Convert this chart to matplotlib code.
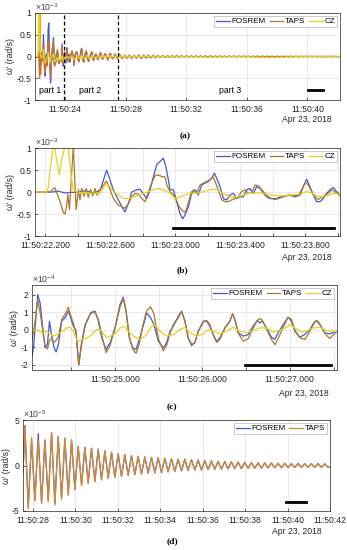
import matplotlib
matplotlib.use('Agg')
import numpy as np
import matplotlib.pyplot as plt
from matplotlib.lines import Line2D

plt.rcParams['font.family'] = ['Liberation Sans', 'DejaVu Sans']
plt.rcParams['axes.unicode_minus'] = False
plt.rcParams['mathtext.fontset'] = 'custom'
plt.rcParams['mathtext.rm'] = 'Liberation Sans'

# time axis = seconds after 11:50:00 (Apr 23, 2018)

# ---- panel (b) values, x1e-3 rad/s
fos_b_t = [22.00, 22.25, 22.28, 22.32, 22.40, 22.45, 22.50, 22.54, 22.579, 22.62,
           22.651, 22.682, 22.692, 22.713, 22.733, 22.764, 22.785, 22.826, 22.846, 22.867,
           22.887, 22.928, 22.943, 22.959, 22.969, 22.99, 23.01, 23.03, 23.047, 23.06,
           23.082, 23.102, 23.123, 23.143, 23.164, 23.184, 23.205, 23.225, 23.242, 23.256,
           23.277, 23.297, 23.318, 23.338, 23.359, 23.379, 23.40, 23.42, 23.44, 23.461,
           23.482, 23.502, 23.523, 23.543, 23.564, 23.584, 23.625, 23.646, 23.677, 23.707,
           23.738, 23.769, 23.789, 23.81, 23.83, 23.851, 23.871, 23.892, 23.912, 23.933,
           23.953, 23.974, 23.994, 24.02]
fos_b_v = [0.0, 0.0, 0.02, -0.02, 0.0, 0.03, -0.03, 0.05, 0.50, 0.05,
           -0.18, -0.40, -0.45, -0.26, 0.0, 0.05, 0.06, -0.15, 0.05, 0.35,
           0.62, 0.77, 0.58, 0.27, 0.05, 0.05, -0.22, -0.49, -0.61, -0.53,
           -0.34, -0.03, 0.05, -0.07, 0.16, 0.20, 0.24, 0.31, 0.43, 0.31,
           0.12, -0.15, -0.18, -0.07, -0.03, -0.15, -0.11, -0.11, 0.05, 0.08,
           -0.03, 0.12, 0.08, -0.03, -0.11, -0.15, -0.15, -0.11, -0.09, -0.07,
           -0.11, -0.07, 0.12, 0.29, 0.12, -0.07, -0.22, -0.22, -0.15, -0.03,
           0.05, 0.10, 0.01, -0.07]

taps_b_t = [22.00, 22.23, 22.26, 22.29, 22.313, 22.323, 22.333, 22.34, 22.35, 22.374,
            22.391, 22.405, 22.415, 22.425, 22.44, 22.452, 22.466, 22.48, 22.493, 22.507,
            22.52, 22.538, 22.579, 22.621, 22.651, 22.67, 22.692, 22.713, 22.733, 22.754,
            22.775, 22.795, 22.816, 22.836, 22.856, 22.877, 22.897, 22.918, 22.938, 22.949,
            22.969, 22.99, 23.0, 23.02, 23.041, 23.061, 23.072, 23.092, 23.102, 23.117,
            23.133, 23.154, 23.174, 23.195, 23.215, 23.232, 23.246, 23.266, 23.287, 23.307,
            23.328, 23.348, 23.369, 23.389, 23.41, 23.43, 23.451, 23.471, 23.492, 23.512,
            23.533, 23.554, 23.574, 23.595, 23.615, 23.636, 23.666, 23.697, 23.728, 23.759,
            23.779, 23.8, 23.82, 23.841, 23.861, 23.882, 23.902, 23.923, 23.943, 23.964,
            23.984, 24.02]
taps_b_v = [0.0, 0.0, 0.10, -0.20, -0.47, -0.50, -0.30, -0.05, -0.40, 1.05,
            -0.40, 0.05, -0.18, 0.08, -0.10, 0.08, -0.12, 0.06, -0.09, 0.08,
            -0.07, 0.05, 0.25, -0.15, -0.30, -0.33, -0.37, -0.26, -0.11, -0.03,
            -0.05, -0.15, -0.22, 0.0, 0.20, 0.37, 0.39, 0.35, 0.34, 0.16,
            0.01, -0.07, -0.11, -0.30, -0.41, -0.47, -0.37, -0.11, 0.01, 0.05,
            -0.03, 0.16, 0.20, 0.24, 0.28, 0.35, 0.24, 0.05, -0.18, -0.22,
            -0.22, -0.18, -0.15, -0.11, 0.01, 0.05, -0.03, -0.03, 0.16, 0.14,
            0.05, -0.03, -0.11, -0.15, -0.17, -0.15, -0.11, -0.07, -0.09, -0.07,
            0.05, 0.22, 0.16, 0.01, -0.11, -0.17, -0.12, -0.07, -0.03, 0.05,
            0.01, -0.10]

cz_b_t = [22.00, 22.21, 22.22, 22.231, 22.247, 22.257, 22.272, 22.288, 22.303, 22.323,
          22.333, 22.344, 22.354, 22.364, 22.374, 22.415, 22.538, 22.569, 22.59, 22.621,
          22.682, 22.713, 22.774, 22.867, 22.897, 22.928, 22.969, 23.0, 23.03, 23.061,
          23.092, 23.133, 23.174, 23.215, 23.236, 23.256, 23.297, 23.338, 23.379, 23.42,
          23.461, 23.502, 23.543, 23.584, 23.646, 23.707, 23.769, 23.81, 23.84, 23.882,
          23.933, 23.974, 24.02]
cz_b_v = [0.0, 0.0, 0.12, 0.50, 0.95, 1.10, 0.70, 0.40, 0.75, 1.05,
          1.15, 1.00, 0.58, 0.27, 0.05, -0.02, -0.03, 0.16, 0.16, 0.01,
          -0.15, -0.15, -0.07, 0.05, 0.08, 0.05, -0.03, -0.15, -0.11, -0.07,
          -0.03, -0.03, 0.01, 0.05, 0.06, 0.05, -0.03, -0.11, -0.12, -0.07,
          -0.03, -0.02, -0.03, -0.07, -0.09, -0.07, -0.05, 0.01, -0.02, -0.11,
          -0.09, -0.03, -0.05]

# ---- panel (c) values, x1e-4 rad/s
fos_c_t = [24.05, 24.067, 24.097, 24.116, 24.143, 24.173, 24.20, 24.227, 24.25, 24.276,
           24.303, 24.326, 24.352, 24.39, 24.429, 24.467, 24.493, 24.516, 24.554, 24.585,
           24.615, 24.657, 24.684, 24.722, 24.771, 24.81, 24.848, 24.897, 24.943, 25.0,
           25.057, 25.095, 25.126, 25.164, 25.202, 25.24, 25.278, 25.316, 25.362, 25.408,
           25.446, 25.495, 25.552, 25.59, 25.629, 25.667, 25.724, 25.762, 25.80, 25.838,
           25.876, 25.914, 25.952, 26.01, 26.048, 26.086, 26.124, 26.162, 26.20, 26.257,
           26.314, 26.345, 26.371, 26.41, 26.467, 26.524, 26.581, 26.627, 26.657, 26.686,
           26.733, 26.79, 26.829, 26.867, 26.924, 26.981, 27.019, 27.057, 27.114, 27.171,
           27.229, 27.274, 27.305, 27.343, 27.40, 27.457, 27.514, 27.55]
fos_c_v = [-1.5, -1.03, 0.88, 2.02, 1.54, 0.11, -1.03, -0.84, 0.50, -0.36,
           -1.03, -1.26, -0.84, 0.50, 0.69, 1.07, 0.69, 0.30, -0.08, -2.02,
           -0.84, 0.30, 0.53, 0.99, 1.07, 0.50, -0.46, -1.12, -0.74, 0.11,
           1.45, 1.87, 1.07, -0.46, -1.03, -1.12, -0.55, 0.11, 0.97, 0.69,
           0.30, -0.65, -1.03, -0.74, -0.08, 0.21, 0.78, 1.07, 0.50, -0.46,
           -0.84, -0.74, -0.08, 0.50, 0.50, 0.21, -0.27, -0.65, -0.46, 0.11,
           0.50, 0.91, 0.59, -0.17, -0.36, -0.27, 0.21, 0.53, 0.40, 0.50,
           0.11, -0.42, -0.55, -0.17, 0.30, 0.72, 0.50, -0.08, -0.42, -0.27,
           0.02, 0.40, 0.53, 0.30, -0.17, -0.23, -0.11, -0.05]

taps_c_t = [24.05, 24.08, 24.116, 24.143, 24.18, 24.20, 24.227, 24.25, 24.276, 24.303,
            24.326, 24.352, 24.39, 24.429, 24.467, 24.493, 24.516, 24.554, 24.585, 24.615,
            24.657, 24.684, 24.722, 24.771, 24.81, 24.848, 24.897, 24.943, 25.0, 25.057,
            25.095, 25.126, 25.164, 25.202, 25.24, 25.278, 25.316, 25.362, 25.408, 25.446,
            25.495, 25.552, 25.59, 25.629, 25.667, 25.724, 25.762, 25.80, 25.838, 25.876,
            25.914, 25.952, 26.01, 26.048, 26.086, 26.124, 26.162, 26.20, 26.257, 26.314,
            26.345, 26.371, 26.41, 26.467, 26.524, 26.581, 26.627, 26.657, 26.686, 26.733,
            26.79, 26.829, 26.867, 26.924, 26.981, 27.019, 27.057, 27.114, 27.171, 27.229,
            27.274, 27.305, 27.343, 27.40, 27.457, 27.514, 27.55]
taps_c_v = [-0.6, 0.3, 1.7, 1.0, -0.3, -0.9, -1.1, -0.6, -0.5, -0.7,
            -0.6, -0.4, 0.6, 0.9, 1.3, 0.8, 0.5, -0.2, -2.0, -0.9,
            0.2, 0.6, 0.95, 1.0, 0.6, -0.3, -1.3, -0.9, 0.1, 1.3,
            1.8, 1.1, -0.4, -1.1, -1.35, -0.8, 0.2, 1.1, 1.32, 0.9,
            -0.5, -1.2, -0.9, -0.2, 0.3, 0.7, 1.05, 0.5, -0.5, -0.92,
            -0.7, -0.1, 0.45, 0.55, 0.3, -0.3, -0.72, -0.55, 0.1, 0.5,
            0.92, 0.6, -0.2, -0.65, -0.5, 0.1, 0.55, 0.65, 0.55, 0.05,
            -0.55, -0.85, -0.5, 0.15, 0.72, 0.6, 0.0, -0.45, -0.55, -0.1,
            0.35, 0.55, 0.35, -0.2, -0.5, -0.2, -0.1]

cz_c_t = [24.051, 24.105, 24.162, 24.219, 24.295, 24.371, 24.448, 24.486, 24.524, 24.57,
          24.638, 24.714, 24.79, 24.829, 24.905, 25.0, 25.057, 25.103, 25.152, 25.21,
          25.286, 25.362, 25.419, 25.457, 25.514, 25.59, 25.667, 25.743, 25.80, 25.857,
          25.933, 26.01, 26.067, 26.124, 26.20, 26.276, 26.353, 26.429, 26.505, 26.581,
          26.657, 26.733, 26.81, 26.886, 26.962, 27.0, 27.057, 27.133, 27.19, 27.267,
          27.343, 27.419, 27.495, 27.55]
cz_c_v = [-0.08, 0.02, -0.17, -0.08, -0.36, -0.17, 0.11, 0.15, -0.08, -0.65,
          -0.55, -0.36, 0.02, 0.02, -0.46, -0.23, 0.11, 0.21, -0.08, -0.36,
          -0.55, -0.27, 0.21, 0.30, -0.08, -0.36, -0.27, 0.02, 0.15, -0.17,
          -0.36, -0.23, 0.02, -0.08, -0.23, -0.08, 0.15, -0.08, -0.17, -0.04,
          0.11, 0.11, -0.13, -0.04, 0.15, 0.30, 0.11, -0.13, -0.08, 0.11,
          0.15, -0.04, -0.08, -0.10]

# ---- panel (d): successive peaks / troughs, x1e-5 rad/s
d_first_peak = 27.62   # time of first peak
d_half_period = 0.157  # peak-to-trough spacing
taps_d_pk = [4.4, 3.1, 2.8, 2.8, 3.6, 3.2, 3.0, 2.8, 2.1, 2.0,
             1.9, 1.8, 1.6, 1.45, 1.3, 1.2, 1.1, 1.0, 0.95, 0.9,
             0.85, 0.8, 0.75, 0.7, 0.7, 0.65, 0.6, 0.55, 0.5, 0.45,
             0.45, 0.4, 0.38, 0.35, 0.33, 0.3, 0.3, 0.28, 0.25, 0.25,
             0.22, 0.22, 0.2, 0.2, 0.2, 0.18]
taps_d_tr = [-4.8, -3.9, -4.2, -4.0, -4.35, -3.7, -3.3, -2.7, -2.2, -2.0,
             -1.8, -1.6, -1.4, -1.3, -1.2, -1.1, -1.0, -0.95, -0.85, -0.8,
             -0.78, -0.7, -0.65, -0.6, -0.55, -0.5, -0.5, -0.45, -0.42, -0.4,
             -0.38, -0.35, -0.35, -0.32, -0.3, -0.3, -0.28, -0.26, -0.25, -0.24,
             -0.22, -0.22, -0.2, -0.2, -0.2, -0.2]
fos_d_pk = [4.4, 2.7, 3.5, 2.8, 3.6, 3.2, 3.0, 2.8, 2.1, 2.0,
            1.9, 1.8, 1.6, 1.45, 1.3, 1.2, 1.1, 1.0, 0.95, 0.9,
            0.85, 0.8, 0.75, 0.7, 0.7, 0.65, 0.6, 0.55, 0.5, 0.45,
            0.45, 0.4, 0.38, 0.35, 0.33, 0.3, 0.3, 0.28, 0.25, 0.25,
            0.22, 0.22, 0.2, 0.2, 0.2, 0.18]
fos_d_tr = [-4.6, -3.8, -4.1, -3.9, -4.2, -3.6, -3.2, -2.6, -2.1, -1.9,
            -1.75, -1.55, -1.4, -1.3, -1.2, -1.1, -1.0, -0.95, -0.85, -0.8,
            -0.78, -0.7, -0.65, -0.6, -0.55, -0.5, -0.5, -0.45, -0.42, -0.4,
            -0.38, -0.35, -0.35, -0.32, -0.3, -0.3, -0.28, -0.26, -0.25, -0.24,
            -0.22, -0.22, -0.2, -0.2, -0.2, -0.2]
# CZ in part 3 (only shown in panel a)
cz_d_pk = [2.0, 1.8, 1.8, 1.6, 1.6, 1.5, 1.5, 1.3, 1.2, 1.2,
           1.1, 1.0, 1.0, 0.9, 0.8, 0.6, 0.4, 0.2, 0.0, 0.0,
           0.2, 0.4, 0.6, 0.6, 0.5, 0.4, 0.2, 0.0, -0.4, -0.8,
           -1.0, -1.2, -1.2, -1.0, -0.8, -0.5, -0.2, 0.0, 0.2, 0.3,
           0.3, 0.3, 0.3, 0.3, 0.3, 0.3]
cz_d_tr = [-2.0, -1.9, -1.8, -1.7, -1.6, -1.5, -1.5, -1.4, -1.3, -1.3,
           -1.2, -1.2, -1.2, -1.3, -1.5, -1.8, -2.0, -2.2, -2.4, -2.4,
           -2.2, -1.8, -1.4, -1.2, -1.2, -1.3, -1.5, -1.8, -2.2, -2.6,
           -2.9, -3.0, -3.0, -2.8, -2.5, -2.1, -1.7, -1.3, -1.0, -0.8,
           -0.7, -0.6, -0.5, -0.5, -0.5, -0.5]

a_ticks = [24, 28, 32, 36, 40]
a_labels = ['11:50:24', '11:50:28', '11:50:32', '11:50:36', '11:50:40']
b_ticks = [22.2, 22.4, 22.6, 22.8, 23.0, 23.2, 23.4, 23.6, 23.8, 24.0]
b_labels = ['11:50:22.200', '', '11:50:22.600', '', '11:50:23.000', '',
            '11:50:23.400', '', '11:50:23.800', '']
c_ticks = [24.5, 25.0, 25.5, 26.0, 26.5, 27.0, 27.5]
c_labels = ['', '11:50:25.000', '', '11:50:26.000', '', '11:50:27.000', '']
d_ticks = [28, 30, 32, 34, 36, 38, 40, 42]
d_labels = ['11:50:28', '11:50:30', '11:50:32', '11:50:34', '11:50:36',
            '11:50:38', '11:50:40', '11:50:42']
part_dividers = [23.95, 27.53]


def zigzag(pk, tr):
    n = len(pk) + len(tr)
    t = d_first_peak + d_half_period * np.arange(n)
    v = np.empty(n)
    v[0::2] = pk
    v[1::2] = tr
    t = np.concatenate([[27.53], t, [42.2]])
    v = np.concatenate([[-0.8], v, [0.0]])
    return t, v


taps_d_t, taps_d_v = zigzag(taps_d_pk, taps_d_tr)
fos_d_t, fos_d_v = zigzag(fos_d_pk, fos_d_tr)
cz_d_t, cz_d_v = zigzag(cz_d_pk, cz_d_tr)

BLUE = '#4657d4'
TAPS = '#a87b2c'
TAPS_A = '#c96f2a'
TAPS_D = '#d28a2c'
CZ = '#e4d21c'
FS = 6.2
LFS = 5.8
W, H = 347, 550

fig = plt.figure(figsize=(W / 100, H / 100), dpi=100)


def add_ax(left, top, right, bottom):
    return fig.add_axes([left / W, 1 - bottom / H, (right - left) / W, (bottom - top) / H])


def style(ax, xlim, ylim, xt, xl, yt, exp, right, date_y, cap, cap_x, cap_y):
    ax.set_xlim(*xlim)
    ax.set_ylim(*ylim)
    ax.set_xticks(xt)
    ax.set_xticklabels(xl)
    ax.set_yticks(yt)
    ax.set_yticklabels(['%g' % y for y in yt])
    ax.grid(True, color='#e2e2e2', lw=0.5)
    ax.set_axisbelow(True)
    ax.tick_params(direction='in', length=2, width=0.5, labelsize=FS, pad=2.5,
                   colors='#262626')
    ax.tick_params(axis='x', pad=3.4)
    for s in ax.spines.values():
        s.set_linewidth(0.5)
        s.set_color('#262626')
    ax.set_ylabel("ω' (rad/s)", fontsize=FS, labelpad=1, color='#262626')
    ax.text(0.0, 1.0, r'$\times10^{%d}$' % exp, transform=ax.transAxes,
            ha='left', va='bottom', fontsize=FS, color='#404040')
    fig.text((right - 8) / W, 1 - date_y / H, 'Apr 23, 2018', ha='right', va='center',
             fontsize=FS, color='#262626')
    fig.text(cap_x / W, 1 - cap_y / H, cap, ha='center', va='center', fontsize=6.8,
             family='Liberation Serif', weight='bold')


def legend(ax, names, colors):
    hs = [Line2D([], [], color=c, lw=0.9) for c in colors]
    leg = ax.legend(hs, names, loc='upper right', ncol=len(names), fontsize=LFS,
                    fancybox=False, edgecolor='#b5b5b5', framealpha=1,
                    handlelength=1.7, handletextpad=0.2, columnspacing=0.5,
                    borderpad=0.25, borderaxespad=0.35)
    leg.get_frame().set_linewidth(0.5)


# (a) whole record in x1e-3
ax = add_ax(35, 13, 340, 100)
fa_t = np.concatenate([fos_b_t, fos_c_t, fos_d_t])
fa_v = np.concatenate([fos_b_v, np.array(fos_c_v) * 0.1, fos_d_v * 0.01])
ta_t = np.concatenate([taps_b_t, taps_c_t, taps_d_t])
ta_v = np.concatenate([taps_b_v, np.array(taps_c_v) * 0.1, taps_d_v * 0.01])
ca_t = np.concatenate([cz_b_t, cz_c_t, cz_d_t])
ca_v = np.concatenate([cz_b_v, np.array(cz_c_v) * 0.1, cz_d_v * 0.01])
ax.plot(fa_t, fa_v, color=BLUE, lw=0.9)
ax.plot(ta_t, ta_v, color=TAPS_A, lw=0.9)
ax.plot(ca_t, ca_v, color=CZ, lw=0.9)
for x in part_dividers:
    ax.axvline(x, color='black', lw=0.9, ls=(0, (3, 2)))
ax.plot([40.05, 41.0], [-0.78, -0.78], color='black', lw=2)
for txt, x in [('part 1', 23.0), ('part 2', 25.64), ('part 3', 34.9)]:
    ax.text(x, -0.78, txt, ha='center', va='center', fontsize=FS)
style(ax, (22.02, 42.15), (-1, 1), a_ticks, a_labels, [-1, -0.5, 0, 0.5, 1], -3,
      340, 119, '(a)', 185, 136)
legend(ax, ['FOSREM', 'TAPS', 'CZ'], [BLUE, TAPS, CZ])

# (b)
ax = add_ax(35, 148, 340, 236)
ax.plot(fos_b_t, fos_b_v, color=BLUE, lw=0.9)
ax.plot(taps_b_t, taps_b_v, color=TAPS, lw=0.9)
ax.plot(cz_b_t, cz_b_v, color=CZ, lw=0.9)
ax.plot([22.99, 23.98], [-0.82, -0.82], color='black', lw=2)
style(ax, (22.138, 24.015), (-1, 1), b_ticks, b_labels, [-1, -0.5, 0, 0.5, 1], -3,
      340, 257, '(b)', 182, 270)
legend(ax, ['FOSREM', 'TAPS', 'CZ'], [BLUE, TAPS, CZ])

# (c)
ax = add_ax(32, 285, 337, 370)
ax.plot(fos_c_t, fos_c_v, color=BLUE, lw=0.9)
ax.plot(taps_c_t, taps_c_v, color=TAPS, lw=0.9)
ax.plot(cz_c_t, cz_c_v, color=CZ, lw=0.9)
ax.plot([26.486, 27.476], [-2.0, -2.0], color='black', lw=2)
style(ax, (24.05, 27.54), (-2.3, 2.57), c_ticks, c_labels, [-2, -1, 0, 1, 2], -4,
      337, 394, '(c)', 172, 407)
legend(ax, ['FOSREM', 'TAPS', 'CZ'], [BLUE, TAPS, CZ])

# (d)
ax = add_ax(23, 420, 330, 511)
ax.plot(fos_d_t, fos_d_v, color=BLUE, lw=0.9)
ax.plot(taps_d_t, taps_d_v, color=TAPS_D, lw=0.9)
ax.plot([39.93, 40.88], [-4.05, -4.05], color='black', lw=2)
style(ax, (27.53, 42.0), (-5, 5), d_ticks, d_labels, [-5, 0, 5], -5,
      330, 531, '(d)', 172, 541)
legend(ax, ['FOSREM', 'TAPS'], [BLUE, TAPS_D])

fig.savefig('out.png', dpi=100)
